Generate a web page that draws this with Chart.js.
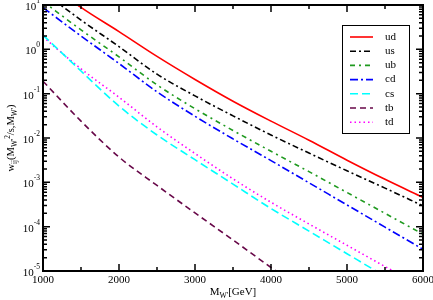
<!DOCTYPE html>
<html lang="en">
<head>
<meta charset="UTF-8" />
<title>w_ij vs M_W'</title>
<script src="https://cdn.jsdelivr.net/npm/chart.js"></script>
<style>
  html, body { margin: 0; padding: 0; background: #fff; }
  #wrap { width: 433px; height: 300px; }
</style>
</head>
<body>
<div id="wrap"><canvas id="chart"></canvas></div>
<script>
// W' mass in GeV
const masses = [1000, 1500, 2000, 2500, 3000, 3500, 4000, 4500, 5000, 5500, 6000];

const ud = [39.8, 8.81, 2.51, 0.692, 0.209, 0.0676, 0.0240, 0.00891, 0.00316, 0.00117, 0.000457];
const us = [20.0, 4.57, 1.15, 0.275, 0.0891, 0.0316, 0.0117, 0.00457, 0.00182, 0.000741, 0.000295];
const ub = [12.0, 2.75, 0.676, 0.158, 0.0457, 0.0148, 0.00501, 0.00174, 0.000589, 0.000200, 0.0000676];
const cd = [8.71, 2.00, 0.479, 0.110, 0.0309, 0.00955, 0.00309, 0.000977, 0.000309, 0.0000977, 0.0000309];
const cs = [2.09, 0.324, 0.0525, 0.0117, 0.00324, 0.000912, 0.000257, 0.0000794, 0.0000245, 0.00000759, 0.0000024];
const tb = [0.191, 0.0240, 0.00372, 0.000851, 0.000204, 0.0000501, 0.0000120, 0.00000302, 7.9e-7, 2.0e-7, 5.0e-8];
const td = [1.91, 0.363, 0.0832, 0.0178, 0.00447, 0.00120, 0.000355, 0.000115, 0.0000380, 0.0000126, 0.00000427];

const xTicks = [1000, 2000, 3000, 4000, 5000, 6000];
const yDecades = [-5, -4, -3, -2, -1, 0, 1];

const FONT = '"Liberation Serif", "DejaVu Serif", serif';

const series = [
  { label: 'ud', data: ud, color: '#ff0000', dash: [] },
  { label: 'us', data: us, color: '#000000', dash: [6, 3, 2, 3] },
  { label: 'ub', data: ub, color: '#1f9a1f', dash: [5, 4, 2, 4] },
  { label: 'cd', data: cd, color: '#0000ff', dash: [8, 3, 2, 3] },
  { label: 'cs', data: cs, color: '#00ffff', dash: [8, 4] },
  { label: 'tb', data: tb, color: '#670748', dash: [6, 4] },
  { label: 'td', data: td, color: '#ff00ff', dash: [1.5, 3] },
];

// draws a run of text pieces, sub/superscripts shifted and smaller
function richText(ctx, parts, x, y, size, align) {
  let w = 0;
  parts.forEach(p => {
    ctx.font = (p.s ? size * 0.7 : size) + 'px ' + FONT;
    p.w = ctx.measureText(p.t).width;
    w += p.w;
  });
  let cx = align === 'center' ? x - w / 2 : x;
  parts.forEach(p => {
    ctx.font = (p.s ? size * 0.7 : size) + 'px ' + FONT;
    let dy = p.s === 'sub' ? size * 0.3 : p.s === 'sup' ? -size * 0.4 : 0;
    ctx.fillText(p.t, cx, y + dy);
    cx += p.w;
  });
}

const framePlugin = {
  id: 'frame',
  afterDraw(chart) {
    const ctx = chart.ctx;
    const a = chart.chartArea;
    const xs = chart.scales.x, ys = chart.scales.y;
    ctx.save();
    ctx.strokeStyle = '#000';
    ctx.fillStyle = '#000';

    // ticks pointing inwards on all four sides
    ctx.lineWidth = 1.5;
    ctx.beginPath();
    for (let v = 1000; v <= 6000; v += 500) {
      const px = xs.getPixelForValue(v);
      const len = v % 1000 === 0 ? 7 : 4;
      ctx.moveTo(px, a.bottom); ctx.lineTo(px, a.bottom - len);
      ctx.moveTo(px, a.top); ctx.lineTo(px, a.top + len);
    }
    yDecades.forEach(d => {
      for (let k = 1; k <= 9; k++) {
        if (d === 1 && k > 1) break;
        const py = ys.getPixelForValue(k * Math.pow(10, d));
        const len = k === 1 ? 7 : 4;
        ctx.moveTo(a.left, py); ctx.lineTo(a.left + len, py);
        ctx.moveTo(a.right, py); ctx.lineTo(a.right - len, py);
      }
    });
    ctx.stroke();

    ctx.lineWidth = 2;
    ctx.strokeRect(a.left, a.top, a.right - a.left, a.bottom - a.top);

    // x tick labels
    ctx.font = '11px ' + FONT;
    ctx.textAlign = 'center';
    ctx.textBaseline = 'top';
    xTicks.forEach(v => ctx.fillText(String(v), xs.getPixelForValue(v), a.bottom + 4));

    // y tick labels 10^n
    ctx.textBaseline = 'middle';
    yDecades.forEach(d => {
      const py = ys.getPixelForValue(Math.pow(10, d));
      const exp = String(d).replace('-', '-');
      ctx.font = '7.5px ' + FONT;
      const ew = ctx.measureText(exp).width;
      ctx.textAlign = 'left';
      ctx.fillText(exp, a.left - 3 - ew, py - 4);
      ctx.font = '11px ' + FONT;
      ctx.textAlign = 'right';
      ctx.fillText('10', a.left - 3 - ew, py + 2);
    });

    // axis titles
    ctx.textAlign = 'left';
    ctx.textBaseline = 'alphabetic';
    richText(ctx, [{ t: 'M' }, { t: "W'", s: 'sub' }, { t: '[GeV]' }], 233, 295, 11, 'center');

    ctx.save();
    ctx.translate(14, 138);
    ctx.rotate(-Math.PI / 2);
    richText(ctx, [
      { t: 'w' }, { t: 'ij', s: 'sub' }, { t: '(M' }, { t: "W'", s: 'sub' }, { t: '2', s: 'sup' },
      { t: '/s,M' }, { t: "W'", s: 'sub' }, { t: ')' }
    ], 0, 0, 10.5, 'center');
    ctx.restore();

    // legend box
    ctx.fillStyle = '#fff';
    ctx.fillRect(342, 25, 67, 108);
    ctx.lineWidth = 1;
    ctx.strokeStyle = '#000';
    ctx.strokeRect(342.5, 25.5, 67, 108);
    ctx.font = '11px ' + FONT;
    ctx.textBaseline = 'middle';
    ctx.textAlign = 'left';
    series.forEach((s, i) => {
      const y = 37 + i * 14.2;
      ctx.strokeStyle = s.color;
      ctx.lineWidth = 1.6;
      ctx.setLineDash(s.dash);
      ctx.beginPath();
      ctx.moveTo(350, y); ctx.lineTo(373, y);
      ctx.stroke();
      ctx.setLineDash([]);
      ctx.fillStyle = '#000';
      ctx.fillText(s.label, 385, y);
    });
    ctx.restore();
  }
};

new Chart(document.getElementById('chart'), {
  type: 'line',
  data: {
    labels: masses,
    datasets: series.map(s => ({
      label: s.label,
      data: s.data.map((v, i) => ({ x: masses[i], y: v })),
      borderColor: s.color,
      borderDash: s.dash,
      borderWidth: 1.6,
      pointRadius: 0,
      fill: false,
      cubicInterpolationMode: 'monotone',
    })),
  },
  options: {
    responsive: true,
    maintainAspectRatio: false,
    animation: false,
    events: [],
    layout: { padding: { top: 5, right: 10, left: 0, bottom: 0 } },
    plugins: { legend: { display: false }, tooltip: { enabled: false } },
    scales: {
      x: {
        type: 'linear', min: 1000, max: 6000,
        ticks: { display: false },
        grid: { display: false },
        border: { display: false },
        afterFit(scale) { scale.height = 29; },
      },
      y: {
        type: 'logarithmic', min: 1e-5, max: 10,
        ticks: { display: false },
        grid: { display: false },
        border: { display: false },
        afterFit(scale) { scale.width = 43; },
      },
    },
  },
  plugins: [framePlugin],
});
</script>
</body>
</html>
